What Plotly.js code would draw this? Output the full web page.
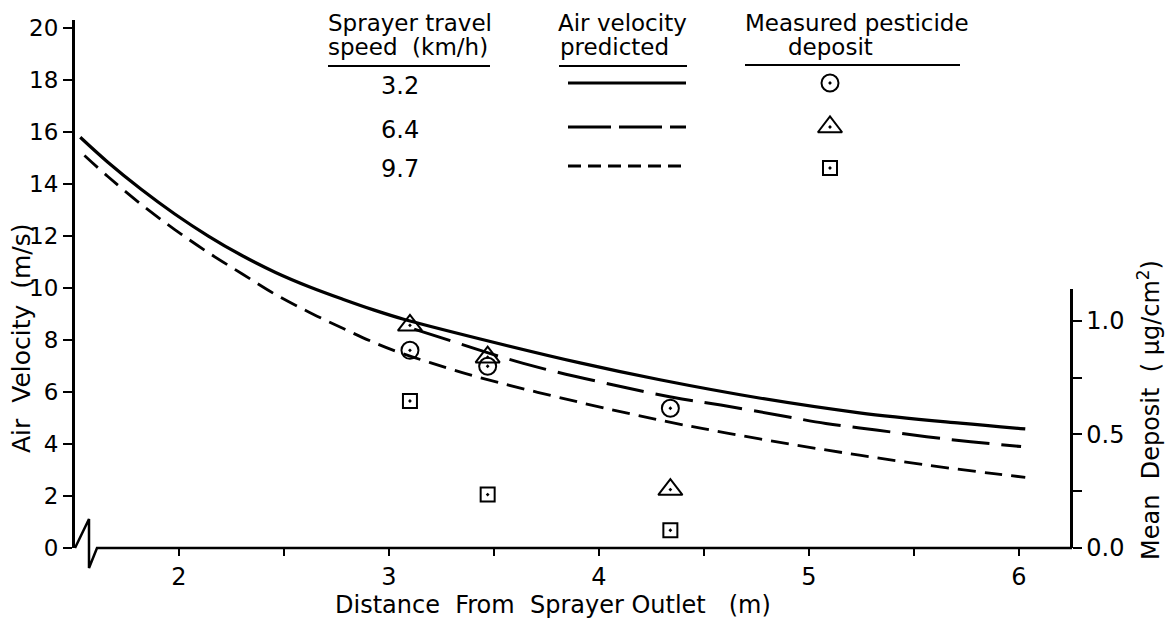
<!DOCTYPE html>
<html>
<head>
<meta charset="utf-8">
<script src="https://cdn.plot.ly/plotly-3.0.1.min.js"></script>
<style>html,body{margin:0;padding:0;background:#fff;}#chart{width:1166px;height:621px;}</style>
</head>
<body>
<div id="chart"></div>
<script>
// ---------- data ----------
const speedLabels = ["3.2", "6.4", "9.7"];

// predicted air velocity (m/s) vs distance (m)
const distSpeed32 = [1.53, 1.66, 1.82, 1.98, 2.14, 2.30, 2.46, 2.62, 2.78, 2.93, 3.07, 3.43, 3.91, 4.29, 4.77, 5.24, 5.72, 6.03];
const velSpeed32  = [15.8, 14.85, 13.8, 12.85, 12.0, 11.25, 10.6, 10.05, 9.57, 9.15, 8.8, 8.05, 7.12, 6.47, 5.76, 5.2, 4.8, 4.58];

const distSpeed64 = [3.12, 3.21, 3.64, 4.07, 4.35, 4.58, 4.85, 5.08, 5.32, 5.56, 5.77, 6.01];
const velSpeed64  = [8.42, 8.19, 7.1, 6.27, 5.8, 5.5, 5.12, 4.79, 4.54, 4.28, 4.09, 3.9];

const distSpeed97 = [1.55, 1.66, 1.82, 1.98, 2.14, 2.30, 2.46, 2.62, 2.78, 2.93, 3.05, 3.20, 3.43, 3.91, 4.30, 4.61, 4.93, 5.24, 5.56, 5.88, 6.03];
const velSpeed97  = [15.1, 14.3, 13.22, 12.25, 11.36, 10.55, 9.75, 9.07, 8.45, 7.9, 7.52, 7.12, 6.56, 5.6, 4.9, 4.42, 3.97, 3.57, 3.19, 2.86, 2.72];

// measured pesticide deposit (ug/cm2)
const depositDist = [3.10, 3.47, 4.34];
const deposit32 = [0.87, 0.80, 0.615];
const deposit64 = [0.98, 0.84, 0.257];
const deposit97 = [0.647, 0.235, 0.078];

// tick labels
const xTicks = [2, 3, 4, 5, 6];
const yTicks = [0, 2, 4, 6, 8, 10, 12, 14, 16, 18, 20];
const y2Ticks = [0, 0.5, 1.0];
const y2TickText = ["0.0", "0.5", "1.0"];

// ---------- geometry ----------
const L = 75, R = 1070, T = 20, B = 548;
const xRange = [1.505, 6.243];
const yRange = [0, 20.31];
const y2Range = [0, 1.14];
const y2Top = 289;
const px = v => (v - L) / (R - L);          // figure px -> paper x
const py = v => (B - v) / (B - T);          // figure px -> paper y
const dx = v => xRange[0] + px(v) * (xRange[1] - xRange[0]);
const dy = v => yRange[0] + py(v) * (yRange[1] - yRange[0]);

const FONT = "DejaVu Sans";
const K = "#000";
const dashLong = "38px,12px";
const dashShort = "18px,9px";
const symbols = ["circle-open-dot", "triangle-up-open-dot", "square-open-dot"];
const symSizes = [17, 21, 14];

const traces = [
  {x: distSpeed32, y: velSpeed32, mode: "lines", line: {color: K, width: 3.2, shape: "spline", smoothing: 1}, hoverinfo: "skip"},
  {x: distSpeed64, y: velSpeed64, mode: "lines", line: {color: K, width: 3, dash: dashLong, shape: "spline", smoothing: 1}, hoverinfo: "skip"},
  {x: distSpeed97, y: velSpeed97, mode: "lines", line: {color: K, width: 2.8, dash: dashShort, shape: "spline", smoothing: 1}, hoverinfo: "skip"}
];
[deposit32, deposit64, deposit97].forEach((d, i) => {
  traces.push({x: depositDist, y: d, yaxis: "y2", mode: "markers", cliponaxis: false,
    marker: {symbol: symbols[i], size: symSizes[i], color: K, line: {color: K, width: 2}}});
});
// legend glyphs (key only)
const keyRows = [83, 127, 168];
const keyLineRows = [83, 127, 166];
keyRows.forEach((r, i) => {
  traces.push({x: [dx(830)], y: [dy(r)], mode: "markers", cliponaxis: false,
    marker: {symbol: symbols[i], size: symSizes[i], color: K, line: {color: K, width: 2}}});
});

const ann = (text, x, y, opts) => Object.assign({
  text: text, xref: "paper", yref: "paper", x: px(x), y: py(y),
  showarrow: false, xanchor: "left", yanchor: "middle",
  font: {family: FONT, size: 23, color: K}
}, opts || {});

const annotations = [
  ann("Sprayer travel", 326, 23),
  ann("speed  (km/h)", 326, 47),
  ann("Air velocity", 556, 23),
  ann("predicted", 558, 47),
  ann("Measured pesticide", 743, 23),
  ann("deposit", 786, 47),
  ann("Distance  From  Sprayer Outlet   (m)", 553, 605, {xanchor: "center", font: {family: FONT, size: 24, color: K}}),
  ann("Air  Velocity  (m/s)", 21, 338, {xanchor: "center", textangle: -90, font: {family: FONT, size: 25, color: K}}),
  ann("Mean  Deposit  ( μg/cm<sup>2</sup>)", 1149, 410, {xanchor: "center", textangle: -90, font: {family: FONT, size: 24, color: K}})
];
speedLabels.forEach((s, i) => annotations.push(ann(s, 379, keyLineRows[i] + 3, {font: {family: FONT, size: 24, color: K}})));

const shp = (x0, y0, x1, y1, w, dash) => ({type: "line", xref: "paper", yref: "paper",
  x0: px(x0), y0: py(y0), x1: px(x1), y1: py(y1), line: {color: K, width: w, dash: dash || "solid"}});

const shapes = [
  shp(328, 66, 490, 66, 2),
  shp(559, 66, 687, 66, 2),
  shp(745, 65, 960, 65, 2),
  shp(568, 83, 686, 83, 3),
  shp(568, 127, 686, 127, 3, "43px,8px"),
  shp(568, 166, 686, 166, 3, "13px,7px"),
  // x axis with break
  {type: "path", xref: "paper", yref: "paper",
   path: `M ${px(75)},${py(548)} L ${px(89)},${py(519)} L ${px(89)},${py(568)} L ${px(97)},${py(548)} L ${px(1072)},${py(548)}`,
   line: {color: K, width: 2.5}}
];

const layout = {
  width: 1166, height: 621,
  margin: {l: L, r: 1166 - R, t: T, b: 621 - B, pad: 0},
  paper_bgcolor: "#fff", plot_bgcolor: "rgba(0,0,0,0)",
  showlegend: false,
  font: {family: FONT, size: 24, color: K},
  xaxis: {range: xRange, showline: false, showgrid: false, zeroline: false,
    tickmode: "array", tickvals: xTicks, ticks: "outside", ticklen: 7, tickwidth: 2, tickcolor: K,
    minor: {dtick: 0.5, tick0: 0, ticks: "outside", ticklen: 7, tickwidth: 2, tickcolor: K},
    tickfont: {family: FONT, size: 24, color: K}},
  yaxis: {range: yRange, domain: [0, 1], showline: true, linewidth: 3, linecolor: K, mirror: false,
    showgrid: false, zeroline: false, tickmode: "array", tickvals: yTicks,
    ticks: "outside", ticklen: 9, tickwidth: 2, tickcolor: K,
    tickfont: {family: FONT, size: 23, color: K}},
  yaxis2: {range: y2Range, domain: [0, py(y2Top)], anchor: "x", side: "right",
    showline: true, linewidth: 2.5, linecolor: K, showgrid: false, zeroline: false,
    tickmode: "array", tickvals: y2Ticks, ticktext: y2TickText,
    ticks: "outside", ticklen: 9, tickwidth: 2, tickcolor: K,
    minor: {tickmode: "array", tickvals: [0.25, 0.75], ticks: "outside", ticklen: 9, tickwidth: 2, tickcolor: K},
    tickfont: {family: FONT, size: 24, color: K}},
  annotations: annotations,
  shapes: shapes
};

Plotly.newPlot("chart", traces, layout, {staticPlot: true});
</script>
</body>
</html>
